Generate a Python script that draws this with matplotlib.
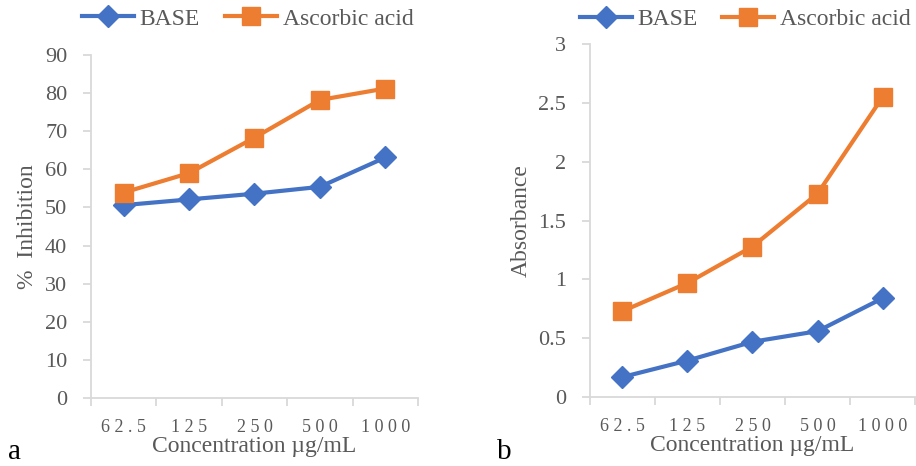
import numpy as np
import matplotlib.pyplot as plt

plt.rcParams['font.family'] = ['Liberation Serif', 'DejaVu Serif']

# data
concentrations = ["62.5", "125", "250", "500", "1000"]
inhibition_base = [50.6, 52.1, 53.6, 55.4, 63.1]
inhibition_ascorbic = [53.9, 59.0, 68.3, 78.2, 81.2]
absorbance_base = [0.17, 0.31, 0.47, 0.56, 0.84]
absorbance_ascorbic = [0.73, 0.97, 1.28, 1.73, 2.55]

BLUE = '#4472C4'
ORANGE = '#ED7D31'
GREY = '#595959'
AXIS = '#D9D9D9'


def spaced(s):
    # wide tracking of the category labels
    return ' '.join(s)


def style_axes(ax, ylim, yticks, ylabel):
    x = np.arange(len(concentrations))
    ax.set_xlim(-0.5, len(concentrations) - 0.5)
    ax.set_ylim(*ylim)
    ax.set_yticks(yticks)
    ax.set_yticklabels([f'{t:g}' for t in yticks])
    ax.set_xticks(x)
    ax.set_xticklabels([spaced(c) for c in concentrations])
    ax.set_xticks(np.arange(len(concentrations) + 1) - 0.5, minor=True)
    ax.tick_params(axis='x', which='major', length=0, pad=15, labelsize=13, labelcolor=GREY)
    ax.tick_params(axis='x', which='minor', length=6, width=1.3, color=AXIS)
    ax.tick_params(axis='y', length=6, width=1.3, color=AXIS, pad=11, labelsize=16, labelcolor=GREY)
    for side in ['top', 'right']:
        ax.spines[side].set_visible(False)
    for side in ['left', 'bottom']:
        ax.spines[side].set_color(AXIS)
        ax.spines[side].set_linewidth(1.3)
    ax.set_xlabel('Concentration \u00b5g/mL', fontsize=17, color=GREY, labelpad=0)
    ax.set_ylabel(ylabel, fontsize=17, color=GREY)


def plot_series(ax, base, ascorbic):
    x = np.arange(len(concentrations))
    ax.plot(x, base, color=BLUE, lw=3, marker='D', ms=11, label='BASE', clip_on=False)
    ax.plot(x, ascorbic, color=ORANGE, lw=3, marker='s', ms=13, label='Ascorbic acid', clip_on=False)


fig = plt.figure(figsize=(9.16, 4.66), dpi=100)
ax1 = fig.add_axes([0.0993, 0.146, 0.357, 0.736])
ax2 = fig.add_axes([0.644, 0.148, 0.355, 0.757])

plot_series(ax1, inhibition_base, inhibition_ascorbic)
style_axes(ax1, (0, 90), list(range(0, 91, 10)), '%  Inhibition')
ax1.yaxis.set_label_coords(-0.162, 0.5)

plot_series(ax2, absorbance_base, absorbance_ascorbic)
style_axes(ax2, (0, 3), [0, 0.5, 1, 1.5, 2, 2.5, 3], 'Absorbance')
ax2.yaxis.set_label_coords(-0.178, 0.5)

leg_kw = dict(ncol=2, frameon=False, fontsize=17, handlelength=2.2, handletextpad=0.25,
              columnspacing=1.05, labelcolor=GREY, borderaxespad=0, borderpad=0)
ax1.legend(loc='center', bbox_to_anchor=(0.479, 1.105), **leg_kw)
ax2.legend(loc='center', bbox_to_anchor=(0.478, 1.07), **leg_kw)

fig.text(0.009, 0.002, 'a', fontsize=21, color='black', va='bottom')
fig.text(0.542, 0.002, 'b', fontsize=21, color='black', va='bottom')

fig.savefig('out.png', dpi=100)
